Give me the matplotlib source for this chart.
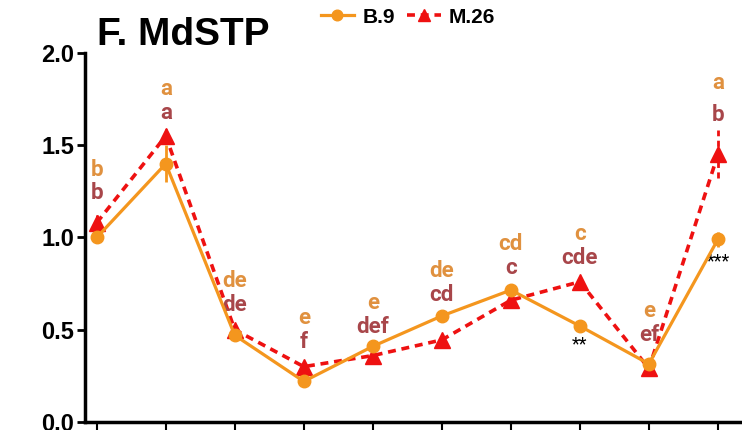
import matplotlib.pyplot as plt
import numpy as np

# values
b9 = [1.00, 1.40, 0.47, 0.22, 0.41, 0.575, 0.715, 0.52, 0.315, 0.99]
b9_err = [0.02, 0.10, 0.02, 0.01, 0.02, 0.01, 0.01, 0.01, 0.02, 0.04]
m26 = [1.08, 1.55, 0.50, 0.30, 0.36, 0.445, 0.66, 0.76, 0.29, 1.45]
m26_err = [0.04, 0.04, 0.03, 0.02, 0.04, 0.03, 0.02, 0.02, 0.02, 0.13]
b9_letters = ['b', 'a', 'de', 'e', 'e', 'de', 'cd', 'c', 'e', 'a']
m26_letters = ['b', 'a', 'de', 'f', 'def', 'cd', 'c', 'cde', 'ef', 'b']
stars = ['', '', '', '', '', '', '', '**', '', '***']
# y of the lower letter row (data units)
lab_y = [1.24, 1.675, 0.634, 0.434, 0.515, 0.688, 0.835, 0.889, 0.472, 1.664]

c_or = '#F4961E'
c_red = '#EE1111'
c_or_txt = '#E0913F'
c_red_txt = '#A8464A'

plt.rcParams['font.family'] = ['Roboto', 'DejaVu Sans']
arial = ['Liberation Sans', 'DejaVu Sans']

fig = plt.figure(figsize=(7.42, 4.30), dpi=100)
ax = fig.add_axes([85/742, 8/430, 655/742, 369/430])

x = np.arange(len(b9))
l1 = ax.errorbar(x, b9, yerr=b9_err, color=c_or, lw=2.3, marker='o', ms=9,
                 elinewidth=2, capsize=0, zorder=3)
l2 = ax.errorbar(x, m26, yerr=m26_err, color=c_red, lw=2.6, ls=(0, (2.2, 1.6)),
                 marker='^', ms=11, elinewidth=2, capsize=0, zorder=2)
l2[2][0].set_linestyle((0, (2.2, 1.6)))

for i in range(len(x)):
    ax.annotate(m26_letters[i], (x[i], lab_y[i]), ha='center', va='center',
                fontsize=16, fontweight='bold', color=c_red_txt)
    ax.annotate(b9_letters[i], (x[i], lab_y[i]), xytext=(0, 17 if i != 9 else 23),
                textcoords='offset points', ha='center', va='center',
                fontsize=16, fontweight='bold', color=c_or_txt)
    if stars[i]:
        ax.annotate(stars[i], (x[i], b9[i]), xytext=(0, -13 if i != 9 else -16),
                    textcoords='offset points', ha='center', va='center',
                    fontsize=13, color='black')

ax.set_xlim(-0.17, 9.32)
ax.set_ylim(0, 2.0)
ax.set_yticks([0, 0.5, 1.0, 1.5, 2.0])
ax.set_yticklabels(['0.0', '0.5', '1.0', '1.5', '2.0'], fontsize=17,
                   fontweight='bold', family=arial)
ax.set_xticks(x)
ax.set_xticklabels([''] * len(x))
for s in ['top', 'right']:
    ax.spines[s].set_visible(False)
for s in ['left', 'bottom']:
    ax.spines[s].set_linewidth(2.5)
ax.tick_params(axis='y', length=6, width=2, pad=2)
ax.tick_params(axis='x', length=8, width=1.5)

fig.text(97/742, 1 - 35/430, 'F. MdSTP', fontsize=28, fontweight='bold',
         ha='left', va='center', family=arial)
# legend from the plain lines, without the error bar ticks
ax.legend([l1[0], l2[0]], ['B.9', 'M.26'], loc='upper center',
          bbox_to_anchor=(323/655, 1 + 64/369), ncol=2,
          frameon=False, prop={'size': 15, 'weight': 'bold', 'family': arial},
          handlelength=1.6, columnspacing=0.6, handletextpad=0.4, markerscale=0.85)

fig.savefig('out.png', dpi=100)
